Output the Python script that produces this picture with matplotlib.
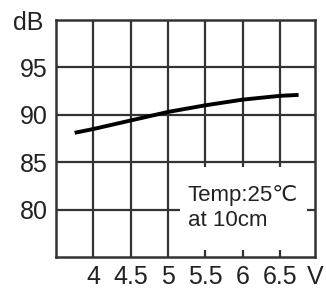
import matplotlib
matplotlib.use("Agg")
import matplotlib.pyplot as plt
from matplotlib.patches import Rectangle

voltage = [3.75, 4.0, 4.5, 5.0, 5.5, 6.0, 6.5, 6.75]
spl_db = [88.1, 88.5, 89.4, 90.3, 91.0, 91.6, 92.0, 92.1]
x_ticks = [4, 4.5, 5, 5.5, 6, 6.5]
x_tick_labels = ["4", "4.5", "5", "5.5", "6", "6.5"]
y_ticks = [80, 85, 90, 95]
y_tick_labels = ["80", "85", "90", "95"]
note = "Temp:25℃\nat 10cm"

font = ["Liberation Sans Narrow", "Liberation Sans", "DejaVu Sans"]
plt.rcParams['font.family'] = font

fig = plt.figure(figsize=(3.26, 2.91), dpi=100)
ax = fig.add_axes([56/326, 1-257/291, (315-56)/326, (257-20)/291])
ax.set_xlim(3.5, 6.97)
ax.set_ylim(75, 100)

gc = "#333333"
for x in x_ticks:
    ax.axvline(x, color=gc, lw=1.6, zorder=1)
for y in y_ticks:
    ax.axhline(y, color=gc, lw=1.6, zorder=1)

ax.plot(voltage, spl_db, color="black", lw=2.8, solid_capstyle="butt", zorder=3)

ax.add_patch(Rectangle(((180-56)/259, (257-250)/237), (307-180)/259, (250-167)/237,
                       transform=ax.transAxes, facecolor="white", edgecolor="none", zorder=2))
ax.text((188-56)/259, (257-208)/237, note, transform=ax.transAxes, fontsize=16,
        color="#222222", va="center", ha="left", linespacing=1.25, zorder=4)

ax.set_xticks(x_ticks)
ax.set_xticklabels(x_tick_labels)
ax.set_yticks(y_ticks)
ax.set_yticklabels(y_tick_labels)
ax.tick_params(length=0, labelsize=18, colors="#222222", pad=6)
for s in ax.spines.values():
    s.set_color(gc)
    s.set_linewidth(1.8)

fig.text(43/326, 1-23/291, "dB", ha="right", va="center", fontsize=18, color="#222222")
fig.text(315/326, 1-277/291, "V", ha="center", va="center", fontsize=18, color="#222222")

fig.savefig("out.png", dpi=100, facecolor="white")
